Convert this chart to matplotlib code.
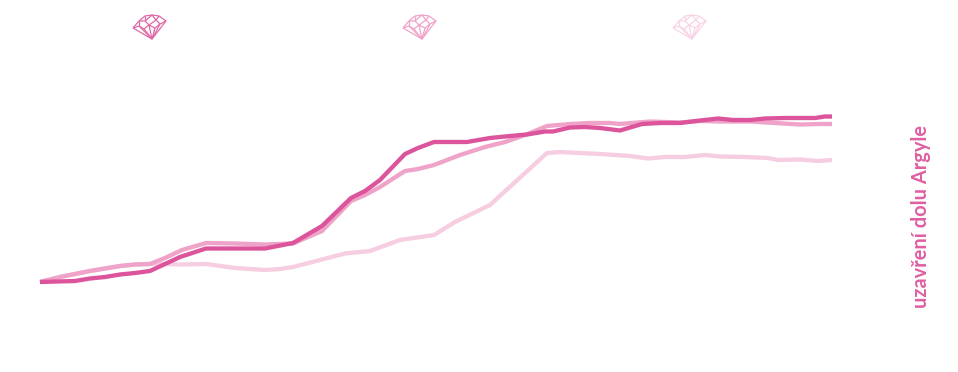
import matplotlib
matplotlib.use("Agg")
import matplotlib.pyplot as plt
from matplotlib.collections import LineCollection

W, H = 958, 372
plt.rcParams['font.family'] = ['Lato', 'DejaVu Sans']

dark_x = [40,75,90,105,120,135,150,165,180,206,235,265,293,322,351,365,380,405,418,434,467,490,510,527,545,553,570,585,600,620,642,660,680,700,718,733,750,765,785,815,825,832]
dark_y = [0,1,3.5,5,7.5,9,11,18,25,33.5,33.5,33.5,39,56,84,91,102,128,134,140,140,144,146,147.5,150.5,150.5,154.5,155,154,151.5,158,159,159,161.5,163.5,162,162,163.5,164,164,165.5,165.5]

mid_x = [40,60,90,120,135,150,165,182,206,235,265,293,322,351,365,380,405,418,434,460,485,505,525,547,570,590,610,620,650,680,700,720,750,775,800,820,832]
mid_y = [0,5,11,16,17.5,18,24,32,39,38.5,37.5,38.5,51,81,87,95,111,113,117,127,135,140,147,156,158,159,159,158,160.5,159.5,161,160.5,160.5,159,157.5,158,158]

light_x = [40,60,90,120,135,150,165,180,206,235,265,280,293,320,345,370,400,434,455,490,547,560,600,630,648,665,685,705,720,745,768,778,800,818,832]
light_y = [0,5,11,16,17.5,18,18,17.5,18,14,12,13,15,22,28.5,31,42,47,60,77,129,130,128,126,123.5,125,125,127,125.5,125,124,122,122.5,121,122]

label = "uzavření dolu Argyle"
gem_x = [150, 420, 690]
gem_colors = ["#DF69A8", "#EFA3C8", "#F8D3E6"]

gem_segments = [
    [(-17,1),(-11,-6),(-5,-11),(2,-12),(9,-11),(16,-6),(2,12),(-17,1)],
    [(-17,1),(-11,-1),(-6,2),(-1,-2),(5,1),(10,-3),(16,-6)],
    [(-11,-6),(-11,-1)],[(-11,-6),(-5,-6),(-1,-2)],[(-5,-11),(-5,-6)],
    [(2,-12),(-5,-6)],[(2,-12),(6,-7)],[(9,-11),(6,-7)],[(6,-7),(10,-3)],[(6,-7),(-1,-2)],
    [(-6,2),(2,12)],[(-11,-1),(2,12)],[(-1,-2),(2,12)],[(5,1),(2,12)],[(10,-3),(2,12)],
]

fig = plt.figure(figsize=(W/100, H/100), dpi=100)
ax = fig.add_axes([0, 0, 1, 1])
ax.set_xlim(0, W)
ax.set_ylim(-90, 282)
ax.axis("off")

ax.plot(light_x, light_y, color="#F7CDE2", lw=3.1, solid_joinstyle="round", solid_capstyle="butt")
ax.plot(mid_x, mid_y, color="#EFA3C8", lw=3.1, solid_joinstyle="round", solid_capstyle="butt")
ax.plot(dark_x, dark_y, color="#DC559C", lw=3.1, solid_joinstyle="round", solid_capstyle="butt")

for gx, gc in zip(gem_x, gem_colors):
    segs = [[(gx + px, 255 - py) for px, py in s] for s in gem_segments]
    ax.add_collection(LineCollection(segs, colors=gc, linewidths=0.9))

ax.text(921, 65, label, rotation=90, ha="center", va="center", color="#DF5FA2",
        fontsize=14.4, fontweight="bold")

fig.savefig("out.png", dpi=100, facecolor="white")
